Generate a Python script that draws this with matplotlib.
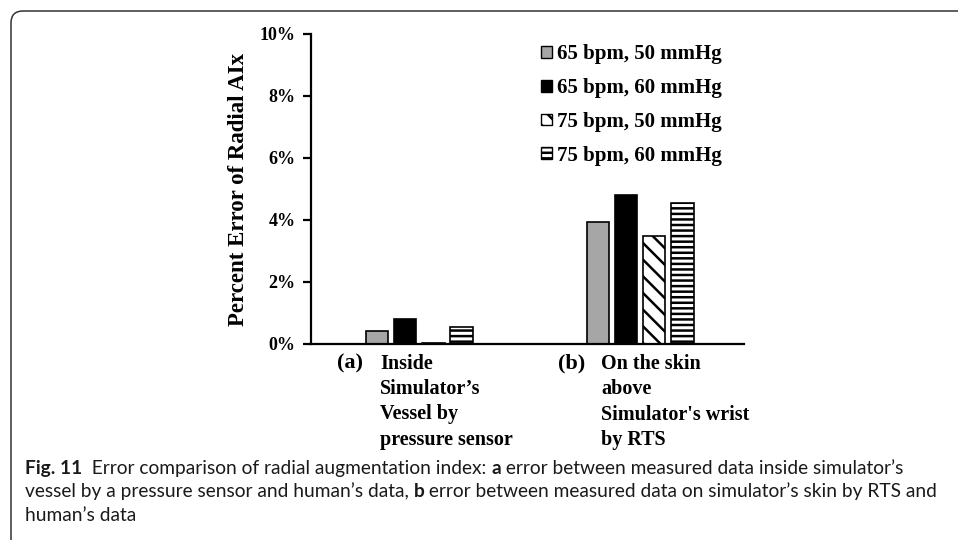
import matplotlib
matplotlib.use("Agg")
import matplotlib.pyplot as plt
import matplotlib.patches as mpatches
from matplotlib.ticker import PercentFormatter
from matplotlib.transforms import IdentityTransform
import numpy as np

# data (percent error)
categories = ["(a)", "(b)"]
cat_text = ["Inside\nSimulator\u2019s\nVessel by\npressure sensor",
            "On the skin\nabove\nSimulator's wrist\nby RTS"]
series = ["65 bpm, 50 mmHg", "65 bpm, 60 mmHg", "75 bpm, 50 mmHg", "75 bpm, 60 mmHg"]
v_65_50 = [0.43, 3.93]
v_65_60 = [0.80, 4.81]
v_75_50 = [0.04, 3.48]
v_75_60 = [0.54, 4.54]
yticks = [0, 2, 4, 6, 8, 10]

serif = "Liberation Serif"
capfont = "Lato"
plt.rcParams["hatch.linewidth"] = 1.8
plt.rcParams["hatch.color"] = "black"

fig = plt.figure(figsize=(9.58, 5.4), dpi=100)
ax = fig.add_axes([311/958, 1-344/540, (744-311)/958, (344-34)/540])

styles = [dict(color="#a6a6a6", hatch=None),
          dict(color="black", hatch=None),
          dict(color="white", hatch="\\\\"),
          dict(color="white", hatch="---")]
vals = [v_65_50, v_65_60, v_75_50, v_75_60]
x = np.arange(len(categories))
w = 0.102
step = 0.127
handles = []
for k, (name, v, st) in enumerate(zip(series, vals, styles)):
    ax.bar(x + (k-1.5)*step, v, w, facecolor=st["color"], edgecolor="black",
           linewidth=1.2, hatch=st["hatch"])
    handles.append(mpatches.Patch(facecolor=st["color"], edgecolor="black",
                                  linewidth=1.0, hatch=st["hatch"], label=name))

ax.set_xlim(-0.49, 1.47)
ax.set_ylim(0, 10)
ax.set_yticks(yticks)
ax.yaxis.set_major_formatter(PercentFormatter(decimals=0))
ax.set_xticks([])
for s in ["top", "right"]:
    ax.spines[s].set_visible(False)
for s in ["left", "bottom"]:
    ax.spines[s].set_linewidth(1.6)
ax.tick_params(axis="y", direction="out", length=6, width=1.6, pad=5)
for t in ax.get_yticklabels():
    t.set_fontfamily(serif)
    t.set_fontweight("bold")
    t.set_fontsize(13)
ax.set_ylabel("Percent Error of Radial AIx", family=serif, fontweight="bold",
              fontsize=16.5, labelpad=8)

for i, (c, d) in enumerate(zip(categories, cat_text)):
    ax.annotate(c, xy=(i, 0), xytext=(-82, -24), textcoords="offset pixels",
                family=serif, fontweight="bold", fontsize=16, ha="left", va="baseline",
                annotation_clip=False)
    ax.annotate(d, xy=(i, 0), xytext=(-39, -10), textcoords="offset pixels",
                family=serif, fontweight="bold", fontsize=14.5, ha="left", va="top",
                linespacing=1.35, annotation_clip=False)

leg = fig.legend(handles=handles, loc="upper left", bbox_to_anchor=(531/958, 1-34/540),
                 frameon=False, borderpad=0, handlelength=0.5, handleheight=0.5,
                 handletextpad=0.25, labelspacing=0.66,
                 prop=dict(family=serif, weight="bold", size=15))

# caption below the chart
cap_lines = [
    [("Fig. 11", True), ("  Error comparison of radial augmentation index: ", False), ("a", True),
     (" error between measured data inside simulator\u2019s", False)],
    [("vessel by a pressure sensor and human\u2019s data, ", False), ("b", True),
     (" error between measured data on simulator\u2019s skin by RTS and", False)],
    [("human\u2019s data", False)],
]
cap_base = [474, 497, 521]
for parts, yb in zip(cap_lines, cap_base):
    yf = 1 - yb/540
    prev = None
    for txt, bold in parts:
        kw = dict(family=capfont, fontsize=13.8, fontweight="bold" if bold else "normal",
                  ha="left", va="baseline", color="#1a1a1a")
        if prev is None:
            prev = fig.text(25/958, yf, txt, **kw)
        else:
            prev = ax.annotate(txt, xy=(1, yf), xycoords=(prev, "figure fraction"),
                               annotation_clip=False, **kw)

# rounded frame that runs off the right and bottom edges
frame = mpatches.FancyBboxPatch((11, -30), 1000, 540-11+30,
                                boxstyle="round,pad=0,rounding_size=12",
                                facecolor="none", edgecolor="#333333", linewidth=1.1,
                                transform=IdentityTransform())
fig.patches.append(frame)

fig.savefig("out.png", dpi=100)
